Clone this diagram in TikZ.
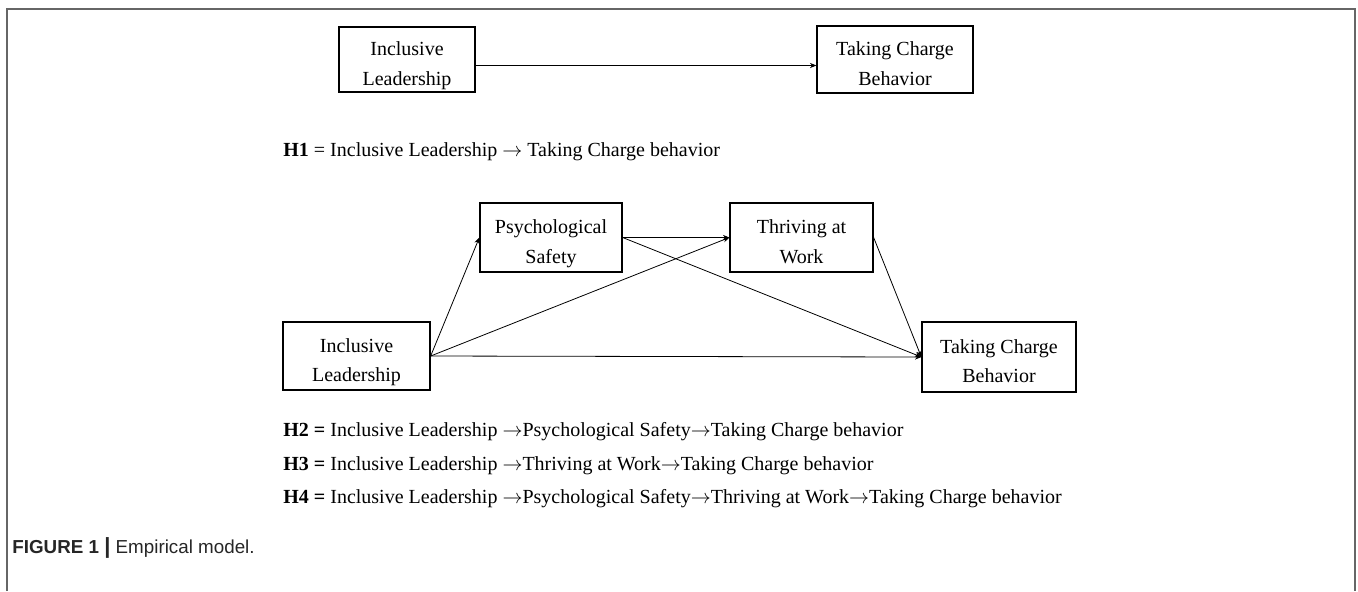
\documentclass[tikz,border=0pt]{standalone}
\usepackage{fontspec}
\setmainfont{Liberation Serif}
\setsansfont{Liberation Sans}
\usetikzlibrary{arrows.meta}
\newcommand\boxtext[2]{\raisebox{-2.6pt}[\height][\depth]{\begin{tabular}{@{}c@{}}#1\\#2\end{tabular}}}
\begin{document}
\begin{tikzpicture}[x=0.5pt,y=-0.5pt,
  box/.style={draw=black, line width=0.65pt, align=center, inner sep=0pt,
    font=\fontsize{10}{14.6}\selectfont},
  conn/.style={line width=0.4pt, -{Stealth[length=3.2pt,width=2.6pt]}},
  hyp/.style={anchor=west, inner sep=0pt, font=\fontsize{10}{12}\selectfont},
  frameline/.style={draw=black!60, line width=0.8pt}]
\useasboundingbox (0,0) rectangle (1358,591);
% frame
\coordinate (f1) at (7,591);
\coordinate (f2) at (7,9);
\coordinate (f3) at (1355,9);
\coordinate (f4) at (1355,591);
\draw[frameline] (f1) -- (f2) -- (f3) -- (f4);
% top model
\node[box, minimum width=68pt, minimum height=32.5pt] (ILt) at (407,59.5) {\boxtext{Inclusive}{Leadership}};
\node[box, minimum width=78pt, minimum height=33.5pt] (TCt) at (895,59.5) {\boxtext{Taking Charge}{Behavior}};
\draw[conn] ([yshift=-3pt]ILt.east) -- ([yshift=-3pt]TCt.west);
\node[hyp] (h1) at (283,152) {\textbf{H1} = Inclusive Leadership $\rightarrow$ Taking Charge behavior};
% lower model
\node[box, minimum width=71pt, minimum height=34.5pt] (PS) at (551,237.5) {\boxtext{Psychological}{Safety}};
\node[box, minimum width=71.5pt, minimum height=34.5pt] (TW) at (801.5,237.5) {\boxtext{Thriving at}{Work}};
\node[box, minimum width=73.5pt, minimum height=34pt] (ILl) at (356.5,356) {\boxtext{Inclusive}{Leadership}};
\node[box, minimum width=77pt, minimum height=35pt] (TCl) at (999,357) {\boxtext{Taking Charge}{Behavior}};
\draw[conn] (ILl.east) -- (PS.west);
\draw[conn] (ILl.east) -- (TW.west);
\draw[conn] (ILl.east) -- (TCl.west);
\draw[conn] (PS.east) -- (TW.west);
\draw[conn] (PS.east) -- (TCl.west);
\draw[conn] (TW.east) -- (TCl.west);
% hypotheses
\node[hyp] (h2) at (283,432) {\textbf{H2 =} Inclusive Leadership $\rightarrow$Psychological Safety$\rightarrow$Taking Charge behavior};
\node[hyp] (h3) at (283,466) {\textbf{H3 =} Inclusive Leadership $\rightarrow$Thriving at Work$\rightarrow$Taking Charge behavior};
\node[hyp] (h4) at (283,499) {\textbf{H4 =} Inclusive Leadership $\rightarrow$Psychological Safety$\rightarrow$Thriving at Work$\rightarrow$Taking Charge behavior};
% caption
\node[anchor=west, inner sep=0pt, font=\sffamily\fontsize{9.4}{11}\selectfont, text=black!85] (cap) at (12,548)
  {\textbf{FIGURE 1 {\fontsize{11}{11}\selectfont|}} Empirical model.};
\end{tikzpicture}
\end{document}
